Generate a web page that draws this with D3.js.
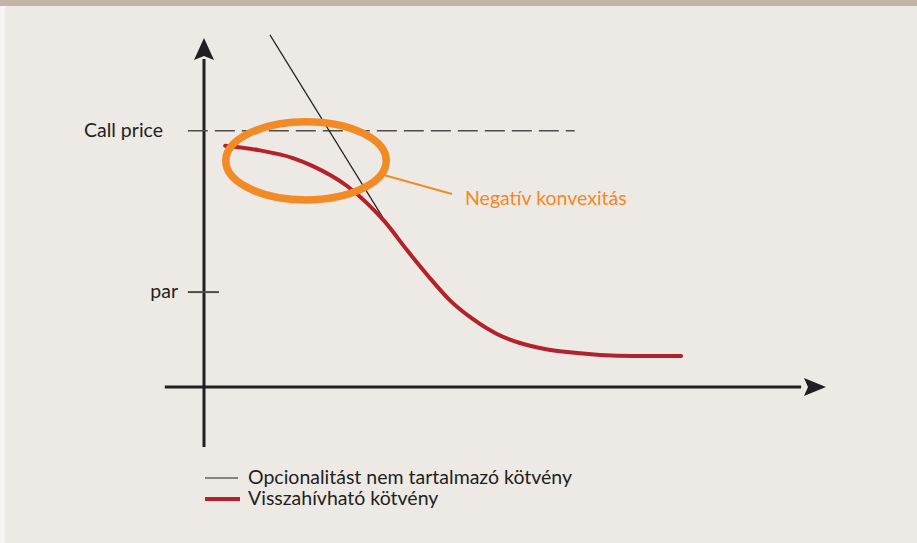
<!DOCTYPE html>
<html>
<head>
<meta charset="utf-8">
<script src="https://cdn.jsdelivr.net/npm/d3@7"></script>
<style>
  html, body { margin: 0; padding: 0; background: #ede9e5; }
  svg { display: block; }
  text { font-family: Lato, "Open Sans", sans-serif; }
</style>
</head>
<body>
<svg id="chart" width="917" height="543"></svg>
<script>
// ---- data (x: yield units 0..100, y: price units 0..100) ----
const curveX = [3.4, 9.0, 14.3, 17.5, 23.0, 26.2, 29.1, 32.6, 35.9, 39.5, 43.2, 47.1, 50.8, 54.8, 58.4, 63.7, 69.0, 76.7];
const curveY = [69.1, 67.8, 65.6, 63.3, 57.6, 52.7, 47.3, 39.3, 32.1, 24.9, 19.5, 15.2, 12.6, 10.9, 10.0, 9.2, 8.9, 8.9];
const straightX = [10.6, 29.6];
const straightY = [100.9, 46.1];
const levelNames = ["Call price", "par"];
const levelValues = [73.4, 27.2];
const seriesNames = ["Opcionalitást nem tartalmazó kötvény", "Visszahívható kötvény"];
const annotationText = "Negatív konvexitás";
const ellipseCenter = [16.4, 64.8];   // data units
const ellipseRadii = [12.9, 11.2];    // data units

const svg = d3.select("#chart");
const W = 917, H = 543;

const x = d3.scaleLinear().domain([0, 100]).range([204, 826]);
const y = d3.scaleLinear().domain([0, 100]).range([387, 38]);

const dark = "#231f20", red = "#b3222a", orange = "#f28a26", grey = "#4d4d4d";

// background
svg.append("rect").attr("width", W).attr("height", H).attr("fill", "#ede9e5");
svg.append("rect").attr("x", 0).attr("y", 0).attr("width", 5).attr("height", H).attr("fill", "#f7f5f3");
svg.append("rect").attr("x", 0).attr("y", 0).attr("width", W).attr("height", 6).attr("fill", "#c4b3a7");

// axes
svg.append("line").attr("x1", x(0)).attr("x2", x(0)).attr("y1", y(-17.2)).attr("y2", y(94))
  .attr("stroke", dark).attr("stroke-width", 3);
svg.append("path")
  .attr("d", `M${x(0)},${y(100)} L${x(0) - 10},${y(100) + 22} L${x(0)},${y(100) + 18} L${x(0) + 10},${y(100) + 22} Z`)
  .attr("fill", dark);
svg.append("line").attr("x1", x(-6.3)).attr("x2", x(96)).attr("y1", y(0)).attr("y2", y(0))
  .attr("stroke", dark).attr("stroke-width", 3);
svg.append("path")
  .attr("d", `M${x(100)},${y(0)} L${x(100) - 22},${y(0) - 9} L${x(100) - 18},${y(0)} L${x(100) - 22},${y(0) + 9} Z`)
  .attr("fill", dark);

// levels
svg.append("line").attr("x1", x(-2.6)).attr("x2", x(59.6))
  .attr("y1", y(levelValues[0])).attr("y2", y(levelValues[0]))
  .attr("stroke", grey).attr("stroke-width", 1.5).attr("stroke-dasharray", "20,7");
svg.append("line").attr("x1", x(-2.6)).attr("x2", x(2.4))
  .attr("y1", y(levelValues[1])).attr("y2", y(levelValues[1]))
  .attr("stroke", grey).attr("stroke-width", 2);

svg.append("text").attr("x", 163).attr("y", y(levelValues[0]) + 6)
  .attr("text-anchor", "end").attr("font-size", 19.5).attr("fill", dark).text(levelNames[0]);
svg.append("text").attr("x", 178).attr("y", y(levelValues[1]) + 6)
  .attr("text-anchor", "end").attr("font-size", 19.5).attr("fill", dark).text(levelNames[1]);

// straight line (no option bond)
const line = d3.line().x(d => x(d[0])).y(d => y(d[1]));
svg.append("path").datum(straightX.map((v, i) => [v, straightY[i]]))
  .attr("d", line).attr("fill", "none").attr("stroke", dark).attr("stroke-width", 1.2);

// callable bond curve
const curveLine = d3.line().x(d => x(d[0])).y(d => y(d[1])).curve(d3.curveMonotoneX);
svg.append("path").datum(curveX.map((v, i) => [v, curveY[i]]))
  .attr("d", curveLine).attr("fill", "none").attr("stroke", red).attr("stroke-width", 4)
  .attr("stroke-linecap", "round");

// annotation ellipse
const cx = x(ellipseCenter[0]), cy = y(ellipseCenter[1]);
const rx = x(ellipseRadii[0]) - x(0), ry = y(0) - y(ellipseRadii[1]);
svg.append("line").attr("x1", cx + rx * 0.97).attr("y1", cy + ry * 0.36)
  .attr("x2", 452).attr("y2", 194).attr("stroke", orange).attr("stroke-width", 2);
svg.append("ellipse").attr("cx", cx).attr("cy", cy).attr("rx", rx).attr("ry", ry)
  .attr("fill", "none").attr("stroke", orange).attr("stroke-width", 7.5);
svg.append("text").attr("x", 465).attr("y", 205).attr("font-size", 19.5)
  .attr("fill", orange).text(annotationText);

// legend
const legend = svg.append("g");
[0, 1].forEach(i => {
  const ly = 478 + i * 21;
  legend.append("line").attr("x1", 205).attr("x2", i === 0 ? 238 : 240).attr("y1", ly).attr("y2", ly)
    .attr("stroke", i === 0 ? dark : red).attr("stroke-width", i === 0 ? 1.2 : 4);
  legend.append("text").attr("x", 248).attr("y", ly + 6).attr("font-size", 19.5)
    .attr("fill", dark).text(seriesNames[i]);
});
</script>
</body>
</html>
